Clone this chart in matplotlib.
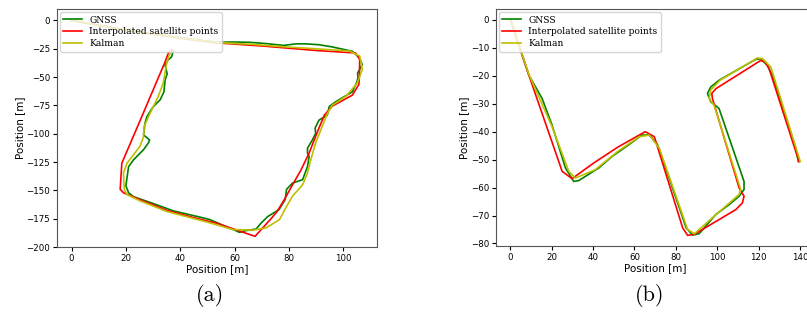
import matplotlib
matplotlib.use("Agg")
import matplotlib.pyplot as plt

# (a) loop track
a_gnss_x = [0, 8, 17, 30, 42, 53.5, 59.4, 65.7, 72, 77.9, 82.8, 86, 91, 96, 103.3, 105.9, 106.9, 106, 105.2, 105.4, 105,
            103.3, 97.2, 94.8, 94.1, 91, 89.6, 89.8, 88.7, 86.8, 86.8, 87.4, 86.8, 85, 81.3, 79.1, 78.6, 76.3, 72.2,
            69.8, 67.9, 64, 61.8, 60, 55, 50.9, 47.2, 37.4, 30, 22.8, 21, 20, 20.4, 21, 22.8, 26.5, 28.3, 28.7, 26.5,
            27, 27.7, 30.1, 32.6, 34, 34.4, 35.2, 34.4, 35.6, 36.8, 37.4]
a_gnss_y = [0, -3.3, -7, -11.8, -15.8, -19.3, -19, -19.3, -20.5, -22, -20.6, -20.6, -21.4, -23.4, -27.2, -32.9, -38.8,
            -43.2, -46.5, -50, -54, -63, -71.7, -76, -83.5, -88, -95, -99.6, -105, -112.7, -117, -120, -129, -140.5,
            -143.5, -149, -158, -167, -173, -178.6, -184, -185.5, -187, -185, -180, -175.7, -173.5, -168, -161.5,
            -155.5, -152, -146, -139, -129, -123, -114, -108, -105.4, -101, -91, -85, -76, -70, -63, -52.7, -47,
            -39.5, -34.6, -32.2, -27]

a_interp_x = [0, 8, 17, 30, 42, 53.5, 70, 90, 104.5, 106, 105.9, 105.7, 103.3, 96, 93, 90.5, 87.4, 84.4, 81.3, 78.3,
              75.5, 73, 67.5, 60.8, 53.5, 45, 35, 25, 19.1, 17.9, 18.5, 26, 31.5, 34.4, 35.6, 36.8]
a_interp_y = [0, -3.5, -7.3, -12.2, -16.3, -19.8, -22.5, -26.5, -28.7, -34.4, -49, -56.5, -65.9, -75.5, -83.5, -98,
              -117, -132, -145, -158, -169, -176, -190.5, -185, -179, -174, -167.5, -158, -152, -149, -126, -84, -53,
              -36.6, -29, -26]

a_kalman_x = [0, 8, 17, 30, 42, 54, 66, 77.9, 90, 102.3, 106, 107, 105, 100.9, 96, 94.1, 91.7, 89.8, 88, 86.8, 85,
              81.3, 78.9, 76.5, 71.6, 66.7, 59.4, 50, 35, 25, 20.4, 19.4, 19.1, 20.4, 25.2, 26.5, 26.7, 28.3, 31.9,
              33.7, 35, 36.2, 36.8]
a_kalman_y = [0, -3.4, -7.2, -12, -16, -19.6, -21, -23.2, -25, -27, -31.4, -43.2, -55.6, -67, -74.7, -82, -96.6, -108,
              -123, -134.7, -145, -155, -165, -175.7, -183, -185, -184.5, -178, -168.5, -159, -153.7, -149, -134.7,
              -126, -111, -102.5, -93.7, -85, -67, -55.6, -38, -29, -27]

# (b) zigzag track
b_gnss_x = [0, 8.9, 15.3, 20.1, 26.6, 30.6, 33, 42.7, 49.1, 57.2, 63.6, 66.8, 68, 71.2, 72.9, 85, 88.1, 91.3, 99.4,
            105.8, 110.6, 113, 113, 100.9, 96.9, 95.3, 96.9, 100.9, 118.7, 121.1, 124.3, 126.7, 138, 139.3]
b_gnss_y = [0, -19.8, -28.1, -37.6, -53, -57.8, -57.5, -53, -48.9, -44.7, -41.2, -41.2, -41.8, -44.7, -48.3, -74.4,
            -77, -76.5, -69.6, -66.1, -63.1, -60.7, -57.8, -31.7, -29.3, -26.3, -24, -21.6, -14.1, -13.9, -16.3,
            -19.8, -45.9, -50.7]

b_interp_x = [0, 8.9, 25, 29.8, 40.3, 52, 65.2, 69.6, 83.3, 85.7, 89, 109, 112.2, 113, 110.6, 97.7, 97.4, 99.4, 121.1,
              123.2, 125.1, 139.6]
b_interp_y = [0, -19.8, -54.2, -56.8, -51.2, -45.5, -40, -41.8, -74.4, -77.1, -76.7, -67.9, -65.5, -63.1, -60.1,
              -28.1, -26.3, -24.6, -14.5, -15.1, -17.4, -50.7]

b_kalman_x = [0, 8.9, 13.7, 20, 28.2, 31.4, 41, 52, 62.3, 67.2, 72, 85.7, 89, 97.7, 110.6, 111.4, 98.5, 96.1, 96.9,
              101.4, 119.5, 122, 126, 140.2]
b_kalman_y = [0, -19.5, -27.5, -38, -54.2, -56.6, -53.6, -47, -41.8, -41.2, -45.9, -75, -76.5, -70.8, -62.5, -60.7,
              -30.5, -28.1, -25.1, -21.6, -13.6, -13.9, -16.9, -50.7]

labels = ["GNSS", "Interpolated satellite points", "Kalman"]
colors = ["g", "r", "y"]

fig = plt.figure(figsize=(8.07, 3.26), dpi=100)
ax1 = fig.add_axes([0.0706, 0.242, 0.3965, 0.730])
ax2 = fig.add_axes([0.6146, 0.245, 0.395, 0.727])

tracks = [
    (ax1, [(a_gnss_x, a_gnss_y), (a_interp_x, a_interp_y), (a_kalman_x, a_kalman_y)]),
    (ax2, [(b_gnss_x, b_gnss_y), (b_interp_x, b_interp_y), (b_kalman_x, b_kalman_y)]),
]

for ax, series in tracks:
    for (xs, ys), lab, c in zip(series, labels, colors):
        ax.plot(xs, ys, color=c, lw=1.2, label=lab)
    ax.set_xlabel("Position [m]", fontsize=7.5, labelpad=1)
    ax.set_ylabel("Position [m]", fontsize=7.5, labelpad=1)
    ax.tick_params(labelsize=6.2, length=3, pad=2)
    for s in ax.spines.values():
        s.set_color("#555555")
    ax.legend(loc="upper left", prop={"family": "DejaVu Serif", "size": 6.6},
              borderaxespad=0.3, handlelength=2.0, labelspacing=0.3)

ax1.set_xticks([0, 20, 40, 60, 80, 100])
ax1.set_yticks([0, -25, -50, -75, -100, -125, -150, -175, -200])
ax1.set_ylim(-200, 10)
ax2.set_xticks([0, 20, 40, 60, 80, 100, 120, 140])

fig.text(0.26, 0.095, "(a)", ha="center", va="center", fontsize=16, family="cmr10")
fig.text(0.805, 0.095, "(b)", ha="center", va="center", fontsize=16, family="cmr10")

fig.savefig("out.png", dpi=100)
